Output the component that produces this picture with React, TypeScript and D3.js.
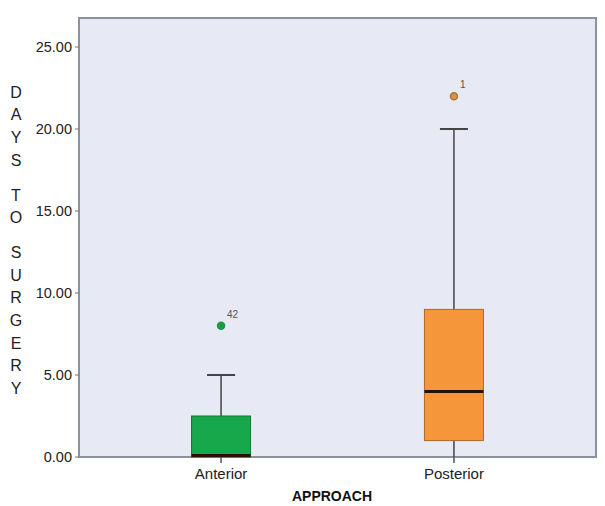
import { useRef, useEffect } from "react";
import * as d3 from "d3";

// chart values
const categories = ["Anterior", "Posterior"];
const q1Values = [0, 1];
const medianValues = [0, 4];
const q3Values = [2.5, 9];
const whiskerLow = [0, 0];
const whiskerHigh = [5, 20];
const outlierValues = [8, 22];
const outlierLabels = ["42", "1"];
const boxColors = ["#16a84b", "#f5963a"];
const outlierColors = ["#1c9a48", "#9c7a3a"];
const yTicks = [0, 5, 10, 15, 20, 25];
const yTitle = "DAYS TO SURGERY";
const xTitle = "APPROACH";

const W = 605;
const H = 506;
const margin = { top: 18, right: 9, bottom: 49, left: 79 };

export default function App() {
  const svgRef = useRef<SVGSVGElement>(null);

  useEffect(() => {
    const svg = d3.select(svgRef.current);
    svg.selectAll("*").remove();

    const x0 = margin.left;
    const x1 = W - margin.right;
    const y0 = H - margin.bottom;
    const y1 = margin.top;

    const x = d3.scalePoint<string>().domain(categories).range([x0, x1]).padding(0.61);
    const y = d3.scaleLinear().domain([0, 25]).range([457, 47]);
    const boxW = 59;
    const capW = 28;
    const font = "Arial, 'Liberation Sans', sans-serif";

    // plot background + frame
    svg
      .append("rect")
      .attr("x", x0)
      .attr("y", y1)
      .attr("width", x1 - x0)
      .attr("height", y0 - y1)
      .attr("fill", "#e7eaf4")
      .attr("stroke", "#8c9299")
      .attr("stroke-width", 2);

    // y axis
    const yAxis = svg.append("g").attr("transform", `translate(${x0},0)`);
    yAxis
      .selectAll("line")
      .data(yTicks)
      .join("line")
      .attr("x1", -4)
      .attr("x2", 0)
      .attr("y1", (d) => y(d))
      .attr("y2", (d) => y(d))
      .attr("stroke", "#777");
    yAxis
      .selectAll("text")
      .data(yTicks)
      .join("text")
      .attr("x", -7)
      .attr("y", (d) => y(d))
      .attr("dy", "0.36em")
      .attr("text-anchor", "end")
      .attr("font-family", font)
      .attr("font-size", 14.5)
      .attr("fill", "#222")
      .text((d) => d.toFixed(2));

    // x axis ticks + labels
    const xAxis = svg.append("g");
    xAxis
      .selectAll("line")
      .data(categories)
      .join("line")
      .attr("x1", (d) => x(d)!)
      .attr("x2", (d) => x(d)!)
      .attr("y1", y0)
      .attr("y2", y0 + 6)
      .attr("stroke", "#555")
      .attr("stroke-width", 1.5);
    xAxis
      .selectAll("text")
      .data(categories)
      .join("text")
      .attr("x", (d) => x(d)!)
      .attr("y", 479)
      .attr("text-anchor", "middle")
      .attr("font-family", font)
      .attr("font-size", 15)
      .attr("fill", "#222")
      .text((d) => d);

    // boxes
    const g = svg
      .selectAll("g.box")
      .data(categories)
      .join("g")
      .attr("class", "box");

    g.append("line")
      .attr("x1", (d) => x(d)!)
      .attr("x2", (d) => x(d)!)
      .attr("y1", (_, i) => y(q3Values[i]))
      .attr("y2", (_, i) => y(whiskerHigh[i]))
      .attr("stroke", "#444")
      .attr("stroke-width", 1.5);
    g.append("line")
      .attr("x1", (d) => x(d)! - capW / 2)
      .attr("x2", (d) => x(d)! + capW / 2)
      .attr("y1", (_, i) => y(whiskerHigh[i]))
      .attr("y2", (_, i) => y(whiskerHigh[i]))
      .attr("stroke", "#444")
      .attr("stroke-width", 2);
    g.append("line")
      .attr("x1", (d) => x(d)!)
      .attr("x2", (d) => x(d)!)
      .attr("y1", (_, i) => y(q1Values[i]))
      .attr("y2", (_, i) => y(whiskerLow[i]))
      .attr("stroke", "#444")
      .attr("stroke-width", 1.5);

    g.append("rect")
      .attr("x", (d) => x(d)! - boxW / 2)
      .attr("width", boxW)
      .attr("y", (_, i) => y(q3Values[i]))
      .attr("height", (_, i) => y(q1Values[i]) - y(q3Values[i]))
      .attr("fill", (_, i) => boxColors[i])
      .attr("stroke", (_, i) => d3.color(boxColors[i])!.darker(1).formatHex())
      .attr("stroke-width", 1);

    g.append("line")
      .attr("x1", (d) => x(d)! - boxW / 2)
      .attr("x2", (d) => x(d)! + boxW / 2)
      .attr("y1", (_, i) => y(medianValues[i]) - (medianValues[i] === 0 ? 1.5 : 0))
      .attr("y2", (_, i) => y(medianValues[i]) - (medianValues[i] === 0 ? 1.5 : 0))
      .attr("stroke", "#2a0d0d")
      .attr("stroke-width", 3);

    // outliers
    g.append("circle")
      .attr("cx", (d) => x(d)!)
      .attr("cy", (_, i) => y(outlierValues[i]))
      .attr("r", 3.5)
      .attr("fill", (_, i) => (i === 1 ? "#e8903c" : outlierColors[i]))
      .attr("stroke", (_, i) => outlierColors[i])
      .attr("stroke-width", 1.5);
    g.append("text")
      .attr("x", (d) => x(d)! + 6)
      .attr("y", (_, i) => y(outlierValues[i]) - 8)
      .attr("font-family", font)
      .attr("font-size", 10)
      .attr("fill", "#555")
      .text((_, i) => outlierLabels[i]);

    // y title, stacked letters
    const letters = yTitle.split("");
    let pos = 92;
    const yPos: number[] = [];
    letters.forEach((c) => {
      if (c === " ") {
        pos += 12;
      } else {
        yPos.push(pos);
        pos += 22.7;
      }
    });
    svg
      .append("g")
      .selectAll("text")
      .data(letters.filter((c) => c !== " "))
      .join("text")
      .attr("x", 16)
      .attr("y", (_, i) => yPos[i])
      .attr("dy", "0.36em")
      .attr("text-anchor", "middle")
      .attr("font-family", font)
      .attr("font-size", 16)
      .attr("fill", "#222")
      .text((d) => d);

    svg
      .append("text")
      .attr("x", 332)
      .attr("y", 501)
      .attr("text-anchor", "middle")
      .attr("font-family", "'Liberation Sans Narrow', Arial, sans-serif")
      .attr("font-weight", "bold")
      .attr("font-size", 14)
      .attr("fill", "#111")
      .text(xTitle);
  }, []);

  return (
    <div style={{ position: "absolute", left: 0, top: 0 }}>
      <svg ref={svgRef} width={W} height={H} style={{ display: "block", background: "#fff" }} />
    </div>
  );
}
